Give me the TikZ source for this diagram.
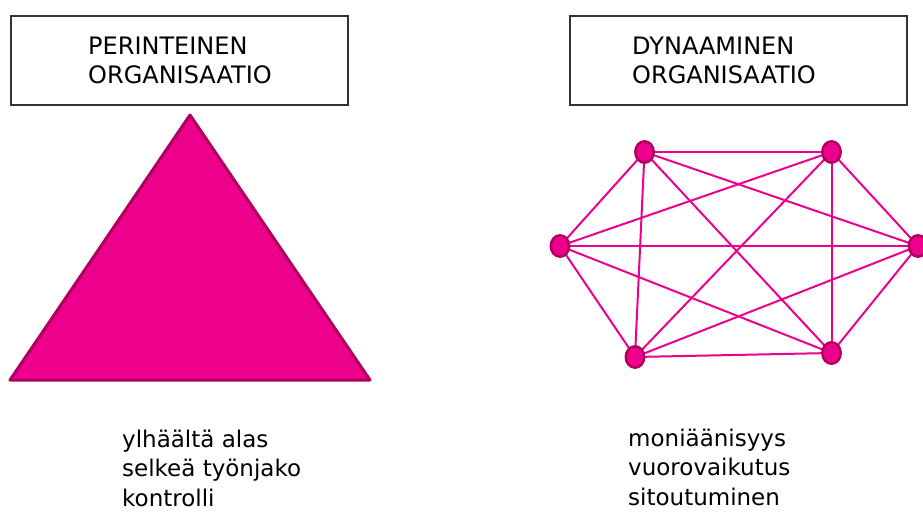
\documentclass[tikz,border=0pt]{standalone}
\usepackage{fontspec}
\setmainfont{DejaVu Sans}
\usetikzlibrary{shapes.geometric,backgrounds}
\definecolor{mag}{HTML}{EC008C}
\definecolor{magdark}{HTML}{B0005E}
\definecolor{boxline}{HTML}{333333}
\tikzset{
  titlebox/.style={draw=boxline, line width=1.3pt, minimum width=337pt, minimum height=89pt, inner sep=0pt},
  titletext/.style={anchor=base west, align=left, inner sep=0pt, font=\fontsize{24}{29}\selectfont},
  listtext/.style={anchor=base west, align=left, inner sep=0pt, font=\fontsize{23}{29.5}\selectfont},
  vertex/.style={ellipse, fill=mag, draw=magdark, line width=2.4pt, minimum width=18.5pt, minimum height=21.5pt, inner sep=0pt},
  link/.style={draw=mag, line width=2pt}
}
\begin{document}
\begin{tikzpicture}[x=1pt,y=-1pt]
\useasboundingbox (0,0) rectangle (923,513);
% left column
\node[titlebox] (boxL) at (179.5,60.5) {};
\node[titletext] (titleL) at (88,84) {PERINTEINEN\\ORGANISAATIO};
\draw[fill=mag, draw=magdark, line width=3pt, line join=round] (190,115) -- (370,380) -- (10,380) -- cycle;
\node[listtext] (listL) at (122,506) {ylhäältä alas\\selkeä työnjako\\kontrolli};
% right column
\node[titlebox] (boxR) at (738.5,60.5) {};
\node[titletext] (titleR) at (632,84) {DYNAAMINEN\\ORGANISAATIO};
\node[vertex] (TL) at (644.5,152) {};
\node[vertex] (TR) at (831.5,152) {};
\node[vertex] (L) at (560,246) {};
\node[vertex] (R) at (918,246) {};
\node[vertex] (BL) at (635,357) {};
\node[vertex] (BR) at (831.5,353) {};
\begin{pgfonlayer}{background}
\foreach \a/\b in {TL/TR,TL/L,TL/BL,TL/BR,TL/R,TR/L,TR/BL,TR/BR,TR/R,L/R,L/BL,L/BR,R/BL,R/BR,BL/BR}
  \draw[link] (\a.center) -- (\b.center);
\end{pgfonlayer}
\node[listtext] (listR) at (628,505) {moniäänisyys\\vuorovaikutus\\sitoutuminen};
\end{tikzpicture}
\end{document}
